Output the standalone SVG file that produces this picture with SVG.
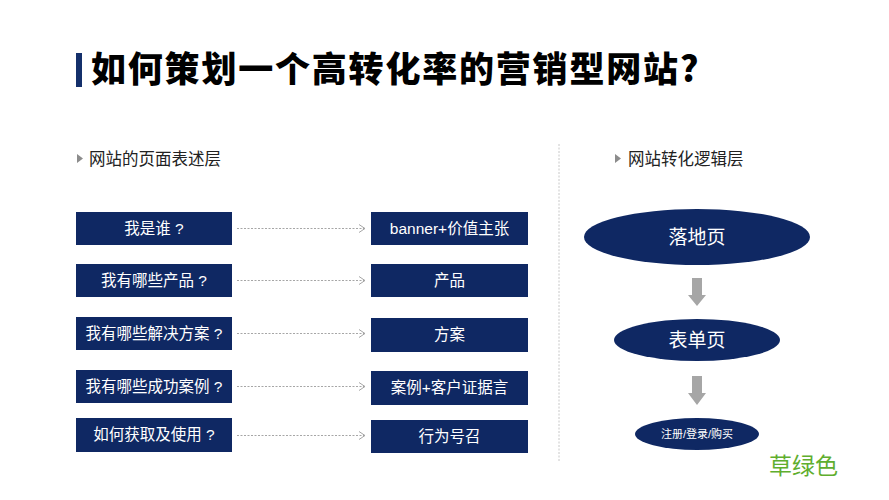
<svg xmlns="http://www.w3.org/2000/svg" width="889" height="500" viewBox="0 0 889 500">
<style>
.box{fill:#0f2863}
.bt{fill:#ffffff;font-family:"Liberation Sans","Noto Sans CJK SC",sans-serif;font-size:15.5px;text-anchor:middle}
.hd{fill:#222222;font-family:"Liberation Sans","Noto Sans CJK SC",sans-serif;font-size:16.5px}
.tri{fill:#8c8c8c}
.dash{stroke:#a6a6a6;stroke-width:1;stroke-dasharray:2 1.5;fill:none}
.div{stroke:#c8c8c8;stroke-width:1;stroke-dasharray:2 1.5;fill:none}
.down{fill:#a6a6a6}
</style>
<defs>
<marker id="chev" markerWidth="10" markerHeight="10" refX="8" refY="5" orient="auto" markerUnits="userSpaceOnUse">
<path d="M2,1 L8,5 L2,9" fill="none" stroke="#a6a6a6" stroke-width="1"/>
</marker>
</defs>
<rect width="889" height="500" fill="#ffffff"/>
<g id="title">
<rect x="76" y="53" width="6" height="34" fill="#14306b"/>
<text x="91" y="82" font-family="'Noto Sans CJK SC',sans-serif" font-weight="900" font-size="35" letter-spacing="1.8" fill="#000000">如何策划一个高转化率的营销型网站?</text>
</g>
<g id="header-left">
<path class="tri" d="M77,154 L83,158.5 L77,163 Z"/>
<text class="hd" x="89" y="165">网站的页面表述层</text>
</g>
<g id="header-right">
<path class="tri" d="M615,154 L621,158.5 L615,163 Z"/>
<text class="hd" x="628" y="165">网站转化逻辑层</text>
</g>
<g id="divider">
<line class="div" x1="559" y1="144" x2="559" y2="462"/>
</g>
<g id="q1"><rect class="box" x="76" y="212" width="156" height="33"/><text class="bt" x="154" y="234">我是谁 ?</text></g>
<g id="q2"><rect class="box" x="76" y="264" width="156" height="33"/><text class="bt" x="154" y="286">我有哪些产品 ?</text></g>
<g id="q3"><rect class="box" x="76" y="317" width="156" height="33"/><text class="bt" x="154" y="339">我有哪些解决方案 ?</text></g>
<g id="q4"><rect class="box" x="76" y="370" width="156" height="33"/><text class="bt" x="154" y="392">我有哪些成功案例 ?</text></g>
<g id="q5"><rect class="box" x="76" y="418" width="156" height="34"/><text class="bt" x="154" y="440">如何获取及使用 ?</text></g>
<g id="a1"><rect class="box" x="371" y="212" width="157" height="33"/><text class="bt" x="449.5" y="234">banner+价值主张</text></g>
<g id="a2"><rect class="box" x="371" y="264" width="157" height="33"/><text class="bt" x="449.5" y="286">产品</text></g>
<g id="a3"><rect class="box" x="371" y="318" width="157" height="34"/><text class="bt" x="449.5" y="340">方案</text></g>
<g id="a4"><rect class="box" x="371" y="371" width="157" height="34"/><text class="bt" x="449.5" y="393">案例+客户证据言</text></g>
<g id="a5"><rect class="box" x="371" y="420" width="157" height="33"/><text class="bt" x="449.5" y="442">行为号召</text></g>
<g id="e1"><ellipse class="box" cx="697" cy="237" rx="113" ry="28"/><text class="bt" x="697" y="244" style="font-size:19px">落地页</text></g>
<g id="e2"><ellipse class="box" cx="697" cy="340" rx="83" ry="21"/><text class="bt" x="697" y="347" style="font-size:19px">表单页</text></g>
<g id="e3"><ellipse class="box" cx="697" cy="434" rx="62" ry="16"/><text class="bt" x="697" y="438" style="font-size:11px">注册/登录/购买</text></g>
<g id="connectors">
<line class="dash" x1="237" y1="228.5" x2="365" y2="228.5" marker-end="url(#chev)"/>
<line class="dash" x1="237" y1="280.5" x2="365" y2="280.5" marker-end="url(#chev)"/>
<line class="dash" x1="237" y1="333.5" x2="365" y2="333.5" marker-end="url(#chev)"/>
<line class="dash" x1="237" y1="386.5" x2="365" y2="386.5" marker-end="url(#chev)"/>
<line class="dash" x1="237" y1="435.5" x2="365" y2="435.5" marker-end="url(#chev)"/>
<path class="down" d="M692,278 L702,278 L702,295 L706,295 L697,306 L688,295 L692,295 Z"/>
<path class="down" d="M692,376 L702,376 L702,393 L706,393 L697,405 L688,393 L692,393 Z"/>
</g>
<text x="769" y="474" font-family="'Liberation Sans','Noto Sans CJK SC',sans-serif" font-size="23" fill="#5fae2e">草绿色</text>
</svg>
